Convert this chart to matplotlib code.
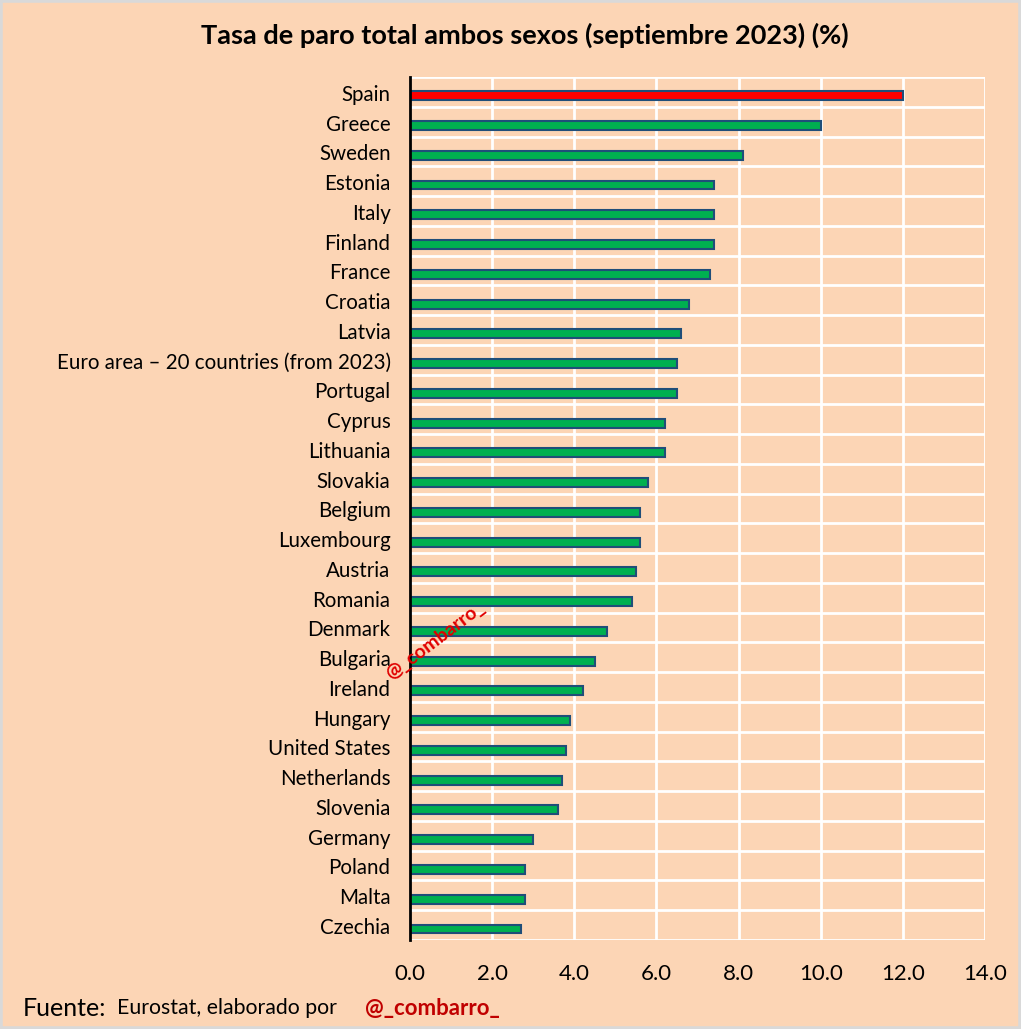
import matplotlib.pyplot as plt

countries = ['Spain', 'Greece', 'Sweden', 'Estonia', 'Italy', 'Finland', 'France',
             'Croatia', 'Latvia', 'Euro area – 20 countries (from 2023)', 'Portugal',
             'Cyprus', 'Lithuania', 'Slovakia', 'Belgium', 'Luxembourg', 'Austria',
             'Romania', 'Denmark', 'Bulgaria', 'Ireland', 'Hungary', 'United States',
             'Netherlands', 'Slovenia', 'Germany', 'Poland', 'Malta', 'Czechia']
rates = [12.0, 10.0, 8.1, 7.4, 7.4, 7.4, 7.3, 6.8, 6.6, 6.5, 6.5, 6.2, 6.2, 5.8,
         5.6, 5.6, 5.5, 5.4, 4.8, 4.5, 4.2, 3.9, 3.8, 3.7, 3.6, 3.0, 2.8, 2.8, 2.7]
xticks = [0, 2, 4, 6, 8, 10, 12, 14]

bg = '#FCD5B5'
plt.rcParams['font.family'] = ['Lato', 'DejaVu Sans']

fig = plt.figure(figsize=(10.21, 10.29), dpi=100, facecolor=bg)
ax = fig.add_axes([410 / 1021, 1 - 940 / 1029, 575 / 1021, 863 / 1029])
ax.set_facecolor(bg)

colors = ['#FF0000' if c == 'Spain' else '#00B050' for c in countries]
ypos = list(range(len(countries)))
ax.barh(ypos, rates, height=0.3, color=colors, edgecolor='#1F4E79', linewidth=1.5, zorder=3)

ax.set_xlim(0, 14)
ax.set_ylim(len(countries) - 1 + 0.37, -0.63)

# gridlines
for x in xticks[1:]:
    ax.axvline(x, color='white', lw=2, zorder=1)
for i in range(-1, len(countries)):
    ax.axhline(i + 0.37, color='white', lw=2, zorder=1)

for s in ['top', 'right', 'bottom']:
    ax.spines[s].set_visible(False)
ax.spines['left'].set_color('black')
ax.spines['left'].set_linewidth(2)
ax.spines['left'].set_zorder(4)

ax.set_yticks([y - 0.1 for y in ypos])
ax.set_yticklabels(countries, fontsize=14.8)
ax.set_xticks(xticks)
ax.set_xticklabels([f'{v:.1f}' for v in xticks], fontsize=16)
ax.tick_params(axis='both', length=0)
ax.tick_params(axis='y', pad=14)
ax.tick_params(axis='x', pad=17)

fig.text(525 / 1021, 1 - 35 / 1029, 'Tasa de paro total ambos sexos (septiembre 2023) (%)',
         ha='center', va='center', fontsize=19.5, fontweight='bold')

fig.text(23 / 1021, 1 - 1008 / 1029, 'Fuente:', fontsize=18, va='center')
fig.text(117 / 1021, 1 - 1008 / 1029, 'Eurostat, elaborado por', fontsize=15.3, va='center')
fig.text(365 / 1021, 1 - 1008 / 1029, '@_combarro_', fontsize=16, va='center',
         color='#C00000', fontweight='bold')

fig.text(435 / 1021, 1 - 641 / 1029, '@_combarro_', fontsize=14, va='center', ha='center',
         color='#E00000', fontweight='bold', rotation=37, zorder=10)

fig.patches.append(plt.Rectangle((0, 0), 1, 1, transform=fig.transFigure, fill=False,
                                 edgecolor='#D9D9D9', lw=4))

fig.savefig('out.png', dpi=100, facecolor=bg)
